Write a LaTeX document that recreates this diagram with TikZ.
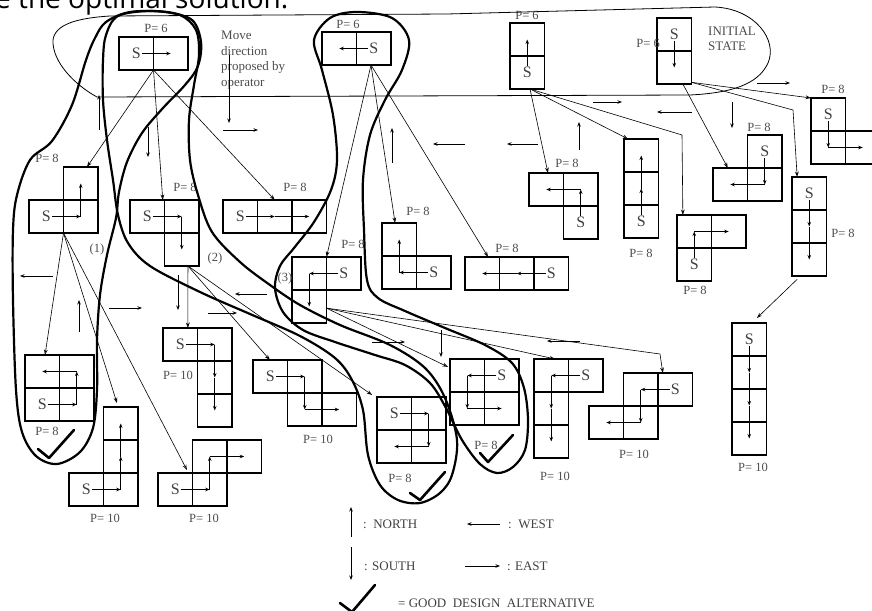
\documentclass[tikz,border=0pt]{standalone}
\usepackage{fontspec}
\setmainfont{Liberation Serif}
\newfontfamily\headfont{Open Sans}
\usetikzlibrary{arrows.meta, calc}

% cells of one state box, in cell units
\newcommand{\boxcells}[1]{\foreach \cc/\rr in {#1} \draw[cell] (\cc,\rr) rectangle ++(1,1);}
% S and the moves that follow it
\newcommand{\route}[4]{%
  \node[stxt] (#1) at (#2+.5,#3+.5) {S};
  \foreach \cc/\rr [remember=\cc as \pc (initially #2), remember=\rr as \pr (initially #3), count=\i] in {#4}{%
    \ifnum\i=1 \draw[mv] (#1) -- (\cc+.5,\rr+.5);%
    \else \draw[mv] (\pc+.5,\pr+.5) -- (\cc+.5,\rr+.5);\fi}}

\begin{document}
\begin{tikzpicture}[x=1pt, y=-1pt,
  cell/.style={line width=1.1pt},
  mv/.style={line width=1pt, -{Stealth[length=4.5pt,width=3.5pt]}},
  conn/.style={line width=0.6pt, -{Stealth[open,length=5.5pt,width=3.8pt]}},
  loopline/.style={line width=2.2pt, line join=round},
  tick/.style={line width=2.6pt, line join=round, line cap=round},
  stxt/.style={font=\fontsize{16}{16}\selectfont, text=black!75, inner sep=1pt},
  plabel/.style={font=\fontsize{12.5}{14}\selectfont, text=black!70, inner sep=0pt},
  legtxt/.style={font=\fontsize{13}{14}\selectfont, text=black!75, inner sep=0pt, anchor=west}]
\useasboundingbox (0,0) rectangle (872,610);
\clip (0,0) rectangle (872,610);

\node[anchor=base west, inner sep=0pt, font=\headfont\fontsize{28}{28}\selectfont] (head) at (-5,9) {e the optimal solution.};

% first moves
\begin{scope}[shift={(119,37)}, x=34.5pt, y=-33pt]
  \boxcells{0/0,1/0} \route{top1}{0}{0}{1/0}
  \coordinate (top1-out) at (1,1);
\end{scope}
\begin{scope}[shift={(322,32)}, x=34.5pt, y=-33pt]
  \boxcells{0/0,1/0} \route{top2}{1}{0}{0/0}
  \coordinate (top2-out) at (1.42,1);
\end{scope}
\begin{scope}[shift={(510,23)}, x=34.5pt, y=-33pt]
  \boxcells{0/0,0/1} \route{top3}{0}{1}{0/0}
  \coordinate (top3-out) at (0.58,2);
\end{scope}
\begin{scope}[shift={(657,18)}, x=34.5pt, y=-33pt]
  \boxcells{0/0,0/1} \route{top4}{0}{0}{0/1}
  \coordinate (top4-out) at (0.75,2);
  \coordinate (top4-out2) at (1,1.95);
\end{scope}

% second moves
\begin{scope}[shift={(29,167)}, x=34.5pt, y=-33pt]
  \boxcells{1/0,0/1,1/1} \route{en}{0}{1}{1/1,1/0}
  \coordinate (en-in) at (1.68,0); \coordinate (en-out) at (1,2);
\end{scope}
\begin{scope}[shift={(130,200)}, x=34.5pt, y=-33pt]
  \boxcells{0/0,1/0,1/1} \route{es}{0}{0}{1/0,1/1}
  \coordinate (es-in) at (0.95,0); \coordinate (es-out) at (1.68,2);
\end{scope}
\begin{scope}[shift={(223,200)}, x=34.5pt, y=-33pt]
  \boxcells{0/0,1/0,2/0} \route{ee}{0}{0}{1/0,2/0}
  \coordinate (ee-in) at (1.5,0);
\end{scope}
\begin{scope}[shift={(292,257)}, x=34.5pt, y=-33pt]
  \boxcells{0/0,1/0,0/1} \route{ws}{1}{0}{0/0,0/1}
  \coordinate (ws-in) at (1,0); \coordinate (ws-out) at (1,1.55);
\end{scope}
\begin{scope}[shift={(382,223)}, x=34.5pt, y=-33pt]
  \boxcells{0/0,0/1,1/1} \route{wn}{1}{1}{0/1,0/0}
  \coordinate (wn-in) at (0.38,0);
\end{scope}
\begin{scope}[shift={(465,257)}, x=34.5pt, y=-33pt]
  \boxcells{0/0,1/0,2/0} \route{ww}{2}{0}{1/0,0/0}
  \coordinate (ww-in) at (0.67,0);
\end{scope}
\begin{scope}[shift={(529,173)}, x=34.5pt, y=-33pt]
  \boxcells{0/0,1/0,1/1} \route{nw}{1}{1}{1/0,0/0}
  \coordinate (nw-in) at (0.55,0);
\end{scope}
\begin{scope}[shift={(624,139)}, x=34.5pt, y=-33pt]
  \boxcells{0/0,0/1,0/2} \route{nn}{0}{2}{0/1,0/0}
  \coordinate (nn-in) at (0.12,0);
\end{scope}
\begin{scope}[shift={(677,215)}, x=34.5pt, y=-33pt]
  \boxcells{0/0,1/0,0/1} \route{ne}{0}{1}{0/0,1/0}
  \coordinate (ne-in) at (0.17,0);
\end{scope}
\begin{scope}[shift={(713,135)}, x=34.5pt, y=-33pt]
  \boxcells{1/0,0/1,1/1} \route{sw}{1}{0}{1/1,0/1}
  \coordinate (sw-in) at (0.43,1);
\end{scope}
\begin{scope}[shift={(811,98)}, x=34.5pt, y=-33pt]
  \boxcells{0/0,0/1,1/1} \route{se}{0}{0}{0/1,1/1}
  \coordinate (se-in) at (0,0);
\end{scope}
\begin{scope}[shift={(792,177)}, x=34.5pt, y=-33pt]
  \boxcells{0/0,0/1,0/2} \route{ss}{0}{0}{0/1,0/2}
  \coordinate (ss-in) at (0.15,0); \coordinate (ss-out) at (0.15,3.1);
\end{scope}

% third moves
\begin{scope}[shift={(25,355)}, x=34.5pt, y=-33pt]
  \boxcells{0/0,1/0,0/1,1/1} \route{enw}{0}{1}{1/1,1/0,0/0}
  \coordinate (enw-in) at (0.58,0);
\end{scope}
\begin{scope}[shift={(69,407)}, x=34.5pt, y=-33pt]
  \boxcells{1/0,1/1,1/2,0/2} \route{enn}{0}{2}{1/2,1/1,1/0}
  \coordinate (enn-in) at (1.39,-0.12);
\end{scope}
\begin{scope}[shift={(158,440)}, x=34.5pt, y=-33pt]
  \boxcells{1/0,2/0,0/1,1/1} \route{ene}{0}{1}{1/1,1/0,2/0}
  \coordinate (ene-in) at (0.84,0.91);
\end{scope}
\begin{scope}[shift={(163,328)}, x=34.5pt, y=-33pt]
  \boxcells{0/0,1/0,1/1,1/2} \route{ess}{0}{0}{1/0,1/1,1/2}
  \coordinate (ess-in) at (0.72,0);
\end{scope}
\begin{scope}[shift={(253,360)}, x=34.5pt, y=-33pt]
  \boxcells{0/0,1/0,1/1,2/1} \route{ese}{0}{0}{1/0,1/1,2/1}
  \coordinate (ese-in) at (0.49,0);
\end{scope}
\begin{scope}[shift={(377,397)}, x=34.5pt, y=-33pt]
  \boxcells{0/0,1/0,0/1,1/1} \route{esw}{0}{0}{1/0,1/1,0/1}
  \coordinate (esw-in) at (-0.14,-0.06);
\end{scope}
\begin{scope}[shift={(450,359)}, x=34.5pt, y=-33pt]
  \boxcells{0/0,1/0,0/1,1/1} \route{wse}{1}{0}{0/0,0/1,1/1}
  \coordinate (wse-in) at (-0.06,0.24);
\end{scope}
\begin{scope}[shift={(534,359)}, x=34.5pt, y=-33pt]
  \boxcells{0/0,1/0,0/1,0/2} \route{wss}{1}{0}{0/0,0/1,0/2}
  \coordinate (wss-in) at (0.61,0);
\end{scope}
\begin{scope}[shift={(589,373)}, x=34.5pt, y=-33pt]
  \boxcells{1/0,2/0,0/1,1/1} \route{wsw}{2}{0}{1/0,1/1,0/1}
  \coordinate (wsw-in) at (2.14,0);
\end{scope}
\begin{scope}[shift={(732,323)}, x=34.5pt, y=-33pt]
  \boxcells{0/0,0/1,0/2,0/3} \route{sss}{0}{0}{0/1,0/2,0/3}
  \coordinate (sss-in) at (0.72,-0.15);
\end{scope}

% costs
\foreach \n/\x/\y/\t in {p1/156/28/6, p2/348/24/6, p3/527/15/6,
    pen/47/158/8, pes/185/187/8, pee/295/187/8, pws/353/244/8, pwn/418/211/8,
    pww/507/248/8, pnw/567/163/8, pnn/641/253/8, pne/695/290/8, psw/759/127/8,
    pse/833/89/8, pss/843/233/8, psss/753/467/10, penw/47/431/8, penn/105/518/10,
    pene/204/518/10, pess/178/375/10, pese/318/439/10, pesw/400/478/8,
    pwse/486/445/8, pwss/555/476/10, pwsw/634/454/10}
  \node[plabel] (\n) at (\x,\y) {P= \t};
\node[plabel, anchor=east] (p4) at (660,43) {P= 6};
\node[plabel] (n1) at (97,249) {(1)};
\node[plabel] (n2) at (215,258) {(2)};
\node[plabel] (n3) at (285,278) {(3)};
\node[plabel, anchor=north west, align=left, font=\fontsize{13}{15.5}\selectfont] (note) at (221,31) {Move\\direction\\proposed by\\operator};
\node[plabel, anchor=north west, align=left, font=\fontsize{13}{15}\selectfont] (init) at (708,27) {INITIAL\\STATE};

% operator connectors
\coordinate (ne-bend) at (682,135);
\coordinate (ss-bend) at (793,110);
\coordinate (wsw-bend) at (660,354);
\draw[conn] (top1-out) -- (en-in);
\draw[conn] (top1-out) -- (es-in);
\draw[conn] (top1-out) -- (ee-in);
\draw[conn] (top2-out) -- (ws-in);
\draw[conn] (top2-out) -- (wn-in);
\draw[conn] (top2-out) -- (ww-in);
\draw[conn] (top3-out) -- (nw-in);
\draw[conn] (top3-out) -- (nn-in);
\draw[conn] (top3-out) -- (ne-bend) -- (ne-in);
\draw[conn] (top4-out) -- (sw-in);
\draw[conn] (top4-out2) -- (se-in);
\draw[conn] (top4-out2) -- (ss-bend) -- (ss-in);
\draw[conn] (ss-out) -- (sss-in);
\draw[conn] (en-out) -- (enw-in);
\draw[conn] (en-out) -- (enn-in);
\draw[conn] (en-out) -- (ene-in);
\draw[conn] (es-out) -- (ess-in);
\draw[conn] (es-out) -- (ese-in);
\draw[conn] (es-out) -- (esw-in);
\draw[conn] (ws-out) -- (wse-in);
\draw[conn] (ws-out) -- (wss-in);
\draw[conn] (ws-out) -- (wsw-bend) -- (wsw-in);

% loose direction arrows
\foreach \xa/\ya/\xb/\yb in {99/130/99/95, 148/127/148/157, 229/55/229/123, 223/130/258/130,
    53/276/20/276, 79/332/79/300, 109/308/142/308, 178/275/178/310, 267/294/235/294,
    208/313/237/313, 392/163/392/128, 465/144/433/144, 538/144/507/144, 579/150/579/122,
    593/102/622/102, 692/112/657/112, 757/83/790/83, 732/102/732/128, 372/342/405/342,
    441/330/441/357, 580/341/547/341}
  \draw[mv] (\xa,\ya) -- (\xb,\yb);

% loop round the first moves
\draw[line width=0.8pt] (97,97) .. controls (75,85) and (52,62) .. (53,40) .. controls (55,24) and (78,18) .. (110,16) -- (447,14) -- (715,7) .. controls (755,9) and (778,40) .. (768,63) .. controls (758,85) and (730,93) .. (690,95) -- cycle;

% good paths
\draw[loopline] plot[smooth cycle, tension=0.55] coordinates {(106,22) (130,12) (165,12) (192,20) (201,42) (198,66) (185,85) (163,108) (142,133) (127,162) (119,192) (116,218) (107,255) (100,295) (97,340) (97,390) (93,428) (80,452) (57,464) (36,456) (22,432) (16,390) (13,300) (13,230) (17,195) (30,160) (52,141) (72,105) (86,60) (95,38)};
\draw[loopline] plot[smooth cycle, tension=0.55] coordinates {(118,16) (150,11) (180,15) (196,30) (199,55) (194,85) (189,120) (190,160) (198,195) (212,232) (240,262) (270,285) (300,305) (340,325) (390,345) (425,368) (445,398) (457,440) (452,475) (440,493) (420,503) (398,500) (380,485) (368,455) (363,410) (352,380) (335,358) (300,336) (250,314) (200,292) (150,266) (128,243) (118,215) (113,180) (107,140) (103,100) (103,60) (106,35)};
\draw[loopline] plot[smooth cycle, tension=0.55] coordinates {(357,12) (392,18) (409,40) (402,70) (385,100) (370,135) (363,180) (364,230) (367,280) (378,298) (405,311) (445,328) (485,345) (512,363) (524,388) (528,420) (525,450) (513,467) (497,473) (480,464) (462,440) (446,408) (430,383) (405,365) (375,355) (335,342) (303,330) (283,312) (275,288) (280,266) (294,248) (314,222) (331,190) (337,160) (333,115) (322,70) (314,40) (330,18)};

% good alternatives
\draw[tick] (38,449) -- (49,458) -- (74,430);
\draw[tick] (410,493) -- (420,500) -- (445,472);
\draw[tick] (480,453) -- (488,462) -- (513,435);

% legend
\draw[mv] (351,537) -- (351,507);
\draw[mv] (351,547) -- (351,580);
\draw[mv] (500,524) -- (467,524);
\draw[mv] (465,566) -- (500,566);
\node[legtxt] (north) at (363,524) {:~~NORTH};
\node[legtxt] (west) at (508,524) {:~~WEST};
\node[legtxt] (south) at (364,566) {: SOUTH};
\node[legtxt] (east) at (507,566) {: EAST};
\draw[tick] (340,603) -- (352,612) -- (375,585);
\node[legtxt] (good) at (398,603) {= GOOD~~DESIGN~~ALTERNATIVE};
\end{tikzpicture}
\end{document}
